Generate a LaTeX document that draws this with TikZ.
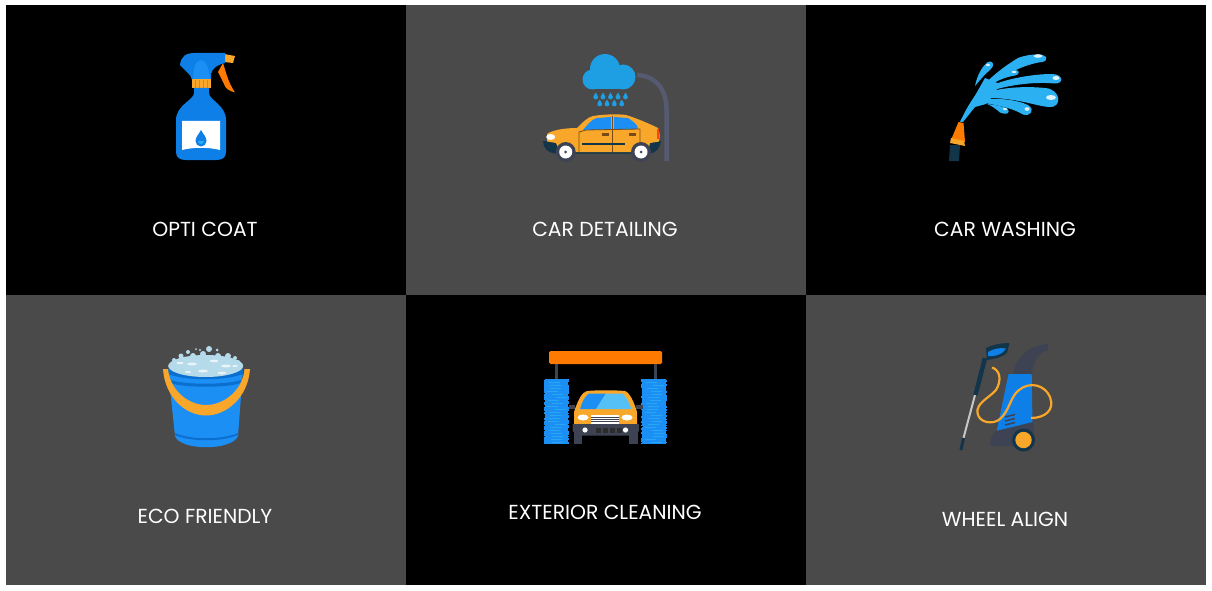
\documentclass[tikz,border=0pt]{standalone}
\usepackage{xcolor}
\usepackage{fontspec}
\setmainfont{Poppins}
\usepackage{tikz}
\usetikzlibrary{positioning}
\definecolor{cellgrey}{HTML}{4A4A4A}
\definecolor{iconblue}{HTML}{0F7FE8}
\definecolor{brightblue}{HTML}{1C8FF5}
\definecolor{skyblue}{HTML}{2BB0F2}
\definecolor{cloudblue}{HTML}{1E9FE4}
\definecolor{darkblue}{HTML}{0A6FCF}
\definecolor{iconorange}{HTML}{FF7A00}
\definecolor{paleorange}{HTML}{F9A72B}
\definecolor{navy}{HTML}{12354A}
\definecolor{slate}{HTML}{3E4354}
\definecolor{polegrey}{HTML}{555A70}
\definecolor{trimbrown}{HTML}{7A4A14}
\definecolor{foam}{HTML}{B5DAEA}

\begin{document}
\begin{tikzpicture}[x=1pt, y=-1pt, node distance=0pt,
    cell/.style={minimum width=400pt, minimum height=290pt, inner sep=0pt, outer sep=0pt},
    blackcell/.style={cell, fill=black},
    greycell/.style={cell, fill=cellgrey},
    caption/.style={text=white, font=\fontsize{20.3}{24}\selectfont}]
  \useasboundingbox (0,0) rectangle (1212,591);
  \fill[white] (0,0) rectangle (1212,591);

  % the six cells
  \node[blackcell, anchor=north west] (opticoat) at (6,5) {};
  \node[greycell, right=of opticoat] (detailing) {};
  \node[blackcell, right=of detailing] (washing) {};
  \node[greycell, below=of opticoat] (ecofriendly) {};
  \node[blackcell, right=of ecofriendly] (exterior) {};
  \node[greycell, right=of exterior] (wheelalign) {};

  \node[caption] (opticoatlabel) at (205,229) {OPTI COAT};
  \node[caption] (detailinglabel) at (605,229) {CAR DETAILING};
  \node[caption] (washinglabel) at (1005,229) {CAR WASHING};
  \node[caption] (ecofriendlylabel) at (205,516) {ECO FRIENDLY};
  \node[caption] (exteriorlabel) at (605,512) {EXTERIOR CLEANING};
  \node[caption] (wheelalignlabel) at (1005,519) {WHEEL ALIGN};

  % spray bottle
  \fill[iconorange] (218,72) -- (223,63) -- (227,76) .. controls (229,82) and (232,88) .. (235,92.5)
    .. controls (229,91) and (225,88) .. (224,84) -- cycle;
  \fill[paleorange] (224,54) -- (235,56) -- (233,63) -- (224,62) -- cycle;
  \fill[iconblue] (180,65) .. controls (181,56) and (186,53) .. (195,53) -- (225,53) -- (225,63)
    .. controls (219,64) and (212,68) .. (211,74) -- (211,80) -- (192,80)
    .. controls (191,74) and (186,72) .. (180,65) -- cycle;
  \fill[brightblue] (193,80) .. controls (193,68) and (196,60) .. (201,60) .. controls (206,60) and (209,68) .. (210,80) -- cycle;
  \fill[paleorange] (191.5,79.5) -- (211,79.5) -- (211,88.5) -- (191.5,88.5) -- cycle;
  \foreach \x in {195,199,203,207} \draw[iconorange, line width=.8pt] (\x,80) -- (\x,88);
  \fill[iconblue] (194,88) -- (209,88) -- (209,93) .. controls (209,100) and (226,105) .. (226,120)
    -- (226,152) .. controls (226,158) and (222,160) .. (216,160) -- (186,160)
    .. controls (180,160) and (176,158) .. (176,152) -- (176,120)
    .. controls (176,105) and (194,100) .. (194,93) -- cycle;
  \fill[white] (182,121) -- (220,121) -- (220,150) .. controls (208,147) and (194,147) .. (182,150) -- cycle;
  \fill[iconblue] (201,130) .. controls (203,134) and (206.5,137) .. (206.5,141) arc[start angle=0, end angle=180, radius=5.5]
    .. controls (195.5,137) and (199,134) .. (201,130) -- cycle;
  \fill[skyblue] (198,141) arc[start angle=180, end angle=0, radius=3] -- cycle;

  % car under the rain cloud
  \draw[polegrey, line width=4.5pt] (637,75) .. controls (655,76) and (666.5,88) .. (666.5,110) -- (666.5,161);
  \fill[cloudblue] (592.5,79.5) circle[radius=10];
  \fill[cloudblue] (605,69) circle[radius=15];
  \fill[cloudblue] (623,77) circle[radius=12.5];
  \fill[cloudblue] (592.5,72) rectangle (623,89.5);
  \foreach \x in {595.7,603,610.5,618,625.5}
    \fill[cloudblue] (\x,92.5) .. controls (\x+1,94.5) and (\x+2.4,96) .. (\x+2.4,97) arc[start angle=0, end angle=180, radius=2.4] .. controls (\x-2.4,96) and (\x-1,94.5) .. (\x,92.5) -- cycle;
  \foreach \x in {599.7,607,614.3,621.7}
    \fill[cloudblue] (\x,99.5) .. controls (\x+1,101.5) and (\x+2.4,103) .. (\x+2.4,104) arc[start angle=0, end angle=180, radius=2.4] .. controls (\x-2.4,103) and (\x-1,101.5) .. (\x,99.5) -- cycle;
  \fill[navy] (543,141) .. controls (543,148) and (548,153) .. (555,153.5) -- (650,153.5) .. controls (656,153) and (660,148) .. (661,141) -- cycle;
  \fill[paleorange] (547,141.5) -- (547,134) .. controls (552,130) and (565,128) .. (577,128)
    .. controls (583,122) and (588,117) .. (593,116) .. controls (605,114) and (620,114) .. (626,115)
    .. controls (636,118) and (650,124) .. (658,128) .. controls (660,132) and (660,137) .. (659,141.5)
    -- (650,143) -- (648,152) -- (560,152) -- (556,143) -- cycle;
  \fill[brightblue] (583,130) .. controls (587,125) and (592,119) .. (597,118) -- (611,117) -- (611,130) -- cycle;
  \fill[brightblue] (614,117) -- (628,118) .. controls (634,122) and (638,125) .. (638,129) -- (614,130) -- cycle;
  \draw[trimbrown, line width=.8pt] (579,152) -- (579,132) -- (586,130) -- (640,129) -- (640,150);
  \draw[trimbrown, line width=.8pt] (612,116) -- (612,152);
  \draw[navy, line width=1.6pt] (582,144) -- (625,144);
  \fill[trimbrown] (602,133) rectangle (609,136);
  \fill[trimbrown] (629,133) rectangle (636,136);
  \fill[white] (550.7,137) ellipse[x radius=4.5, y radius=3];
  \fill[red!60!paleorange] (656.5,129) rectangle (659,139);
  \foreach \x in {565.7,641} {
    \fill[slate] (\x,152) circle[radius=10];
    \fill[white] (\x,152) circle[radius=6.5];
    \fill[slate] (\x,152) circle[radius=1.5];
  }

  % water hose
  \fill[navy] (950,145) -- (960,145) -- (959,161) -- (949,161) -- cycle;
  \fill[iconorange] (958.5,122) -- (963.5,123) -- (965,142) -- (951,140) -- cycle;
  \fill[paleorange] (951,138) -- (964,141) -- (965,146) -- (950,143) -- cycle;
  \fill[skyblue] (960,122) -- (968,108) -- (985,78) -- (1000,84) -- (992,97) -- (986,104) -- (975,107) -- (963,122) -- cycle;
  \fill[skyblue] (960,122) .. controls (971,98) and (985,78) .. (1018,58) .. controls (1026,55) and (1032,54.5) .. (1037,54.5)
    .. controls (1048,54) and (1049,61) .. (1042,62) .. controls (1032,63) and (1008,70) .. (985,90) -- cycle;
  \fill[skyblue] (988,87) .. controls (1002,80) and (1030,74) .. (1052,74) .. controls (1063,74) and (1065,84) .. (1054,83.5)
    .. controls (1040,82) and (1010,83) .. (982,94) -- cycle;
  \fill[skyblue] (978,95) .. controls (1000,87) and (1025,86) .. (1045,88) .. controls (1061,89) and (1063,108) .. (1049,107)
    .. controls (1035,106) and (1015,97) .. (982,98) -- cycle;
  \fill[skyblue] (983,99) .. controls (1000,98) and (1018,100) .. (1028,105) .. controls (1036,110) and (1030,117) .. (1023,114.5)
    .. controls (1012,108) and (1000,106) .. (985,103) -- cycle;
  \fill[skyblue] (987,104) .. controls (995,105) and (1003,106) .. (1008,109) .. controls (1011,114) and (1005,115) .. (1000,112.5)
    .. controls (996,109) and (992,106) .. (987,104) -- cycle;
  \fill[skyblue] (975,86) .. controls (977,75) and (983,65) .. (988,62) .. controls (994,60) and (995,66) .. (990,70)
    .. controls (985,74) and (980,80) .. (975,86) -- cycle;
  \fill[skyblue] (990,85) .. controls (998,78) and (1008,71) .. (1015,70) .. controls (1020,69.5) and (1020,75) .. (1015,75.5)
    .. controls (1005,77) and (997,81) .. (990,85) -- cycle;
  \fill[white!85!skyblue] (1038,56) ellipse[x radius=4.5, y radius=1.8];
  \fill[white!85!skyblue] (1056,78) ellipse[x radius=3.5, y radius=2];
  \fill[white!85!skyblue] (1051,97.5) ellipse[x radius=5, y radius=2.5];
  \fill[white!85!skyblue] (1027,109) ellipse[x radius=2.5, y radius=1.8];
  \fill[white!85!skyblue] (1005,109) ellipse[x radius=2, y radius=1.2];
  \fill[white!85!skyblue] (988,65) ellipse[x radius=2, y radius=1.2];
  \fill[white!85!skyblue] (1014,72) ellipse[x radius=2.5, y radius=1];

  % soap bucket
  \fill[brightblue] (168,369) -- (243,369) -- (238,436) .. controls (232,451) and (180,451) .. (175,436) -- cycle;
  \fill[darkblue] (170,380) .. controls (185,385) and (226,385) .. (241,380) -- (241,383) .. controls (226,388) and (185,388) .. (170,383) -- cycle;
  \fill[darkblue] (175,433) .. controls (190,440) and (222,440) .. (238,433) -- (238,435) .. controls (222,442) and (190,442) .. (175,435) -- cycle;
  \fill[darkblue] (168,369) -- (243,369) -- (243,374) .. controls (225,381) and (186,381) .. (168,374) -- cycle;
  \fill[foam] (205.7,366) ellipse[x radius=37.5, y radius=11];
  \foreach \x/\y/\r in {209/349/3, 217/350/1.5, 200/350/1.2, 196/349/1, 188/352/2, 181/356/2.5, 228/356/3, 235/358/2, 203/354/3, 218/356/3, 193/356/3, 174/360/2, 238/362/2}
    \fill[foam] (\x,\y) circle[radius=\r];
  \foreach \x/\y/\r in {192/364/2.5, 214/361/2.2, 226/366/2.5, 180/363/1.8, 203/371/2.5, 222/373/2.2, 235/366/1.5, 188/372/1.6}
    \fill[white!70!foam] (\x,\y) ellipse[x radius=2*\r, y radius=\r*.6];
  \fill[paleorange] (163,369) -- (168,369) .. controls (170,390) and (188,405) .. (206,405)
    .. controls (224,405) and (243,390) .. (244.5,369) -- (250,369)
    .. controls (248,398) and (226,415.5) .. (206,415.5) .. controls (186,415.5) and (165,398) .. (163,369) -- cycle;

  % car wash
  \fill[iconorange, rounded corners=1.5pt] (549,351) rectangle (662,364);
  \fill[slate] (555,364) rectangle (557.5,380);
  \fill[slate] (654,364) rectangle (656.5,380);
  \pgfmathsetseed{7}
  \foreach \bx in {543.5,641} {
    \foreach \y in {380,381.2,...,444} {
      \pgfmathsetmacro{\jl}{rnd*1.5}
      \pgfmathsetmacro{\jr}{rnd*1.5}
      \draw[brightblue, line width=1.7pt] (\bx+\jl,\y) -- (\bx+26-\jr,\y);
    }
    \foreach \y in {382,385,...,442} {
      \pgfmathsetmacro{\jl}{rnd*10}
      \draw[skyblue!70!brightblue, line width=.5pt] (\bx+3+\jl,\y) -- (\bx+14+\jl,\y);
    }
  }
  \fill[slate] (569,405) rectangle (575,409);
  \fill[slate] (636,405) rectangle (643,409);
  \fill[slate] (574,432) rectangle (582,444);
  \fill[slate] (629,432) rectangle (638,444);
  \fill[paleorange] (574,425) -- (574,412) .. controls (578,400) and (582,392) .. (587,391)
    .. controls (598,390) and (614,390) .. (625,391) .. controls (630,393) and (634,402) .. (637,412) -- (637,425) -- cycle;
  \fill[brightblue] (580,409) .. controls (582,402) and (585,396) .. (589,393.5) -- (606,393.5) -- (596,409) -- cycle;
  \fill[skyblue!80!white] (606,393.5) -- (622,393.5) .. controls (626,396) and (629,402) .. (631.5,409) -- (596,409) -- cycle;
  \fill[white] (583,417.5) ellipse[x radius=5.5, y radius=3];
  \fill[white] (627,417.5) ellipse[x radius=5.5, y radius=3];
  \fill[white] (591,415) rectangle (619,423.5);
  \foreach \y in {417,419,421} \draw[slate, line width=.5pt] (591,\y) -- (619,\y);
  \fill[slate] (572.5,424) -- (639,424) -- (639,431) -- (634,435.5) -- (577,435.5) -- (572.5,431) -- cycle;
  \foreach \x in {585,625.5} \fill[white] (\x,430) circle[radius=2.6];
  \foreach \x in {596,603,610,617} \fill[cellgrey!60!black] (\x,428) rectangle (\x+5,433);

  % pressure washer
  \fill[slate] (1013,374) .. controls (1016,358) and (1028,345) .. (1048,344) -- (1048,350)
    .. controls (1040,352) and (1033,360) .. (1032,374) -- cycle;
  \fill[iconblue] (1008.5,374) -- (1031.7,374) -- (1032.5,423) -- (996.5,432) -- cycle;
  \fill[slate] (996,431) -- (1033,422) -- (1034,433) -- (1015,446) -- (990,446) .. controls (990,440) and (992,435) .. (996,431) -- cycle;
  \foreach \y in {417,421,425} \draw[slate, line width=1.5pt] (1005,\y+.0) -- (1015,\y-2.5);
  \draw[paleorange, line width=2.2pt] (992,367.5) .. controls (1000,370) and (1002,380) .. (996,390)
    .. controls (989,398) and (976,403) .. (977.5,413) .. controls (979,423) and (993,425) .. (1000,419)
    .. controls (1010,410) and (1010,397) .. (1019,390) .. controls (1030,381) and (1045,385) .. (1050,397)
    .. controls (1055,410) and (1045,418) .. (1031,418);
  \fill[navy] (1023.5,440) circle[radius=11.5];
  \fill[paleorange] (1023.5,440) circle[radius=8.2];
  \draw[white!70!slate, line width=2pt] (975,395) -- (963.5,438);
  \draw[navy, line width=3pt] (963.5,438) -- (961,450);
  \draw[navy, line width=4.5pt] (985,358) -- (975.5,395);
  \fill[navy] (986,348) .. controls (992,345) and (1000,343) .. (1009.5,343) -- (1007,353) .. controls (1003,357) and (995,359) .. (987,360) -- cycle;
  \fill[iconblue] (988,352) .. controls (994,348.5) and (1000,347.5) .. (1006,348.5) .. controls (1004,353) and (996,357) .. (988,356) -- cycle;
\end{tikzpicture}
\end{document}
